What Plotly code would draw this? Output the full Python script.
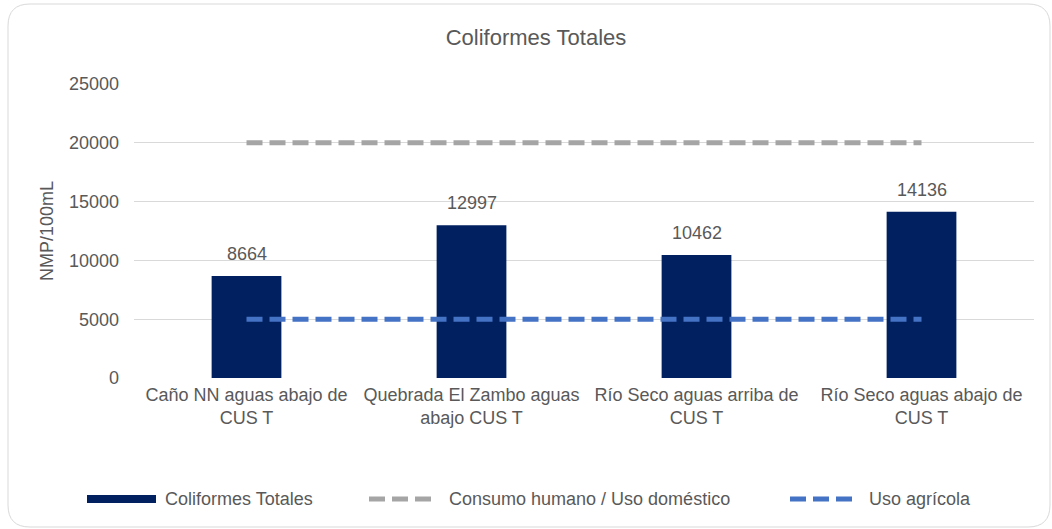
import plotly.graph_objects as go

categories = [
    "Caño NN aguas abajo de<br>CUS T",
    "Quebrada El Zambo aguas<br>abajo CUS T",
    "Río Seco aguas arriba de<br>CUS T",
    "Río Seco aguas abajo de<br>CUS T",
]
coliformes = [8664, 12997, 10462, 14136]
consumo_humano = [20000, 20000, 20000, 20000]
uso_agricola = [5000, 5000, 5000, 5000]
y_ticks = [0, 5000, 10000, 15000, 20000, 25000]

series_names = ["Coliformes Totales", "Consumo humano / Uso doméstico", "Uso agrícola"]
BAR_COLOR = "#002060"
GRAY = "#A5A5A5"
BLUE = "#4472C4"
TEXT = "#595959"
FONT = "Liberation Sans, Arial, sans-serif"

W, H = 1052, 529
ML, MR, MT, MB = 134, 18, 84, 151
PW, PH = W - ML - MR, H - MT - MB


def px_x(x):
    return (x - ML) / PW


def px_y(y):
    return (H - MB - y) / PH


fig = go.Figure()
fig.add_trace(go.Bar(
    x=categories, y=coliformes, name=series_names[0],
    marker=dict(color=BAR_COLOR, line=dict(width=0)),
    width=0.31, showlegend=False,
))
fig.add_trace(go.Scatter(
    x=categories, y=consumo_humano, name=series_names[1], mode="lines",
    line=dict(color=GRAY, width=5, dash="16px,7px"), showlegend=False,
))
fig.add_trace(go.Scatter(
    x=categories, y=uso_agricola, name=series_names[2], mode="lines",
    line=dict(color=BLUE, width=5, dash="16px,7px"), showlegend=False,
))

# data labels
for c, v in zip(categories, coliformes):
    fig.add_annotation(x=c, y=v, text=str(v), showarrow=False, yanchor="bottom",
                       yshift=10, font=dict(size=18, color=TEXT, family=FONT))

shapes = []
# outer rounded border
x0, y0, x1, y1 = 8, 4, 1050, 527
r = 22
rx, ry = r / PW, r / PH
X0, X1, Y0, Y1 = px_x(x0), px_x(x1), px_y(y0), px_y(y1)
path = (f"M {X0+rx},{Y0} L {X1-rx},{Y0} Q {X1},{Y0} {X1},{Y0-ry} "
        f"L {X1},{Y1+ry} Q {X1},{Y1} {X1-rx},{Y1} L {X0+rx},{Y1} "
        f"Q {X0},{Y1} {X0},{Y1+ry} L {X0},{Y0-ry} Q {X0},{Y0} {X0+rx},{Y0} Z")
shapes.append(dict(type="path", xref="paper", yref="paper", path=path,
                   line=dict(color="#D9D9D9", width=1), layer="below"))

# custom legend
ly = 499
shapes.append(dict(type="rect", xref="paper", yref="paper",
                   x0=px_x(87), x1=px_x(156), y0=px_y(ly - 4), y1=px_y(ly + 4),
                   fillcolor=BAR_COLOR, line=dict(width=0)))
shapes.append(dict(type="line", xref="paper", yref="paper",
                   x0=px_x(369), x1=px_x(436), y0=px_y(ly), y1=px_y(ly),
                   line=dict(color=GRAY, width=5, dash="16px,7px")))
shapes.append(dict(type="line", xref="paper", yref="paper",
                   x0=px_x(790), x1=px_x(857), y0=px_y(ly), y1=px_y(ly),
                   line=dict(color=BLUE, width=5, dash="16px,7px")))
for name, tx in zip(series_names, [163, 447, 867]):
    fig.add_annotation(xref="paper", yref="paper", x=px_x(tx), y=px_y(ly),
                       xanchor="left", yanchor="middle", text=name, showarrow=False,
                       font=dict(size=18, color=TEXT, family=FONT))

fig.update_layout(
    width=W, height=H,
    margin=dict(l=ML, r=MR, t=MT, b=MB, pad=0),
    paper_bgcolor="white", plot_bgcolor="white",
    font=dict(family=FONT, size=18, color=TEXT),
    title=dict(text="Coliformes Totales", x=536 / W, xref="container", xanchor="center",
               y=1 - 37 / H, yref="container", yanchor="middle",
               font=dict(size=22, color=TEXT, family=FONT)),
    shapes=shapes,
    bargap=0.69,
    showlegend=False,
)
fig.update_xaxes(showgrid=False, showline=False, zeroline=False, ticks="",
                 tickfont=dict(size=18, color=TEXT), ticklabelstandoff=4)
fig.update_yaxes(range=[0, 25000], tickvals=y_ticks, tickformat="d",
                 showgrid=True, gridcolor="#D9D9D9",
                 gridwidth=1.3, zeroline=False, showline=False, ticks="",
                 tickfont=dict(size=18, color=TEXT), ticklabelstandoff=14,
                 title=dict(text="NMP/100mL", standoff=10, font=dict(size=18, color=TEXT)))

fig.write_html("out.html", config={"displayModeBar": False},
               post_script="document.body.style.margin='0';")
